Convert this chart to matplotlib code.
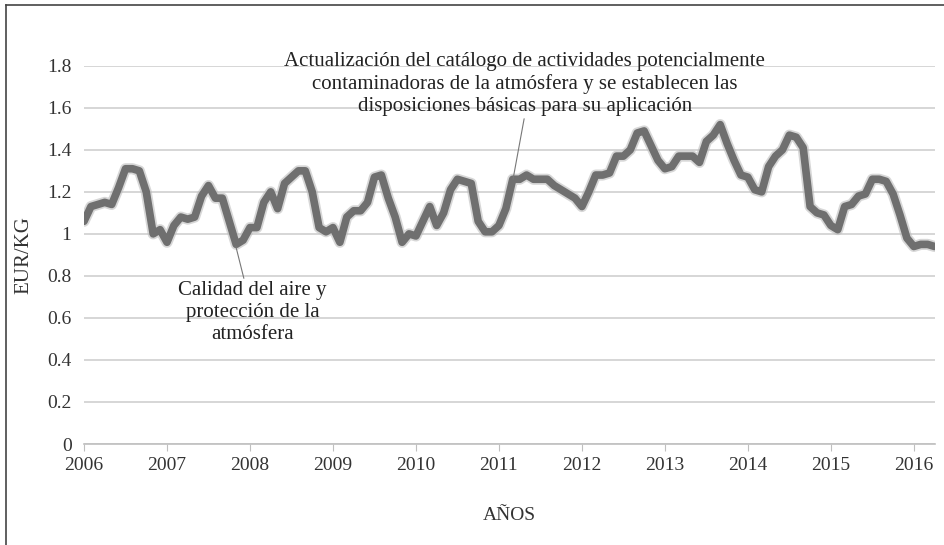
import matplotlib
matplotlib.use("Agg")
import matplotlib.pyplot as plt
from matplotlib.lines import Line2D

# --- datos: precio mensual (EUR/KG), ene-2006 .. abr-2016 ---
start_year = 2006
precio = [
    1.06, 1.13, 1.14, 1.15, 1.14, 1.22, 1.31, 1.31, 1.30, 1.20, 1.00, 1.02,  # 2006
    0.96, 1.04, 1.08, 1.07, 1.08, 1.18, 1.23, 1.17, 1.17, 1.06, 0.95, 0.97,  # 2007
    1.03, 1.03, 1.15, 1.20, 1.12, 1.24, 1.27, 1.30, 1.30, 1.20, 1.03, 1.01,  # 2008
    1.03, 0.96, 1.08, 1.11, 1.11, 1.15, 1.27, 1.28, 1.17, 1.08, 0.96, 1.00,  # 2009
    0.99, 1.06, 1.13, 1.04, 1.10, 1.21, 1.26, 1.25, 1.24, 1.06, 1.01, 1.01,  # 2010
    1.04, 1.12, 1.26, 1.26, 1.28, 1.26, 1.26, 1.26, 1.23, 1.21, 1.19, 1.17,  # 2011
    1.13, 1.20, 1.28, 1.28, 1.29, 1.37, 1.37, 1.40, 1.48, 1.49, 1.42, 1.35,  # 2012
    1.31, 1.32, 1.37, 1.37, 1.37, 1.34, 1.44, 1.47, 1.52, 1.43, 1.35, 1.28,  # 2013
    1.27, 1.21, 1.20, 1.32, 1.37, 1.40, 1.47, 1.46, 1.41, 1.13, 1.10, 1.09,  # 2014
    1.04, 1.02, 1.13, 1.14, 1.18, 1.19, 1.26, 1.26, 1.25, 1.19, 1.09, 0.98,  # 2015
    0.94, 0.95, 0.95, 0.94,                                                  # 2016
]
x = [start_year + i / 12 for i in range(len(precio))]

anios = list(range(2006, 2017))
y_ticks = [0, 0.2, 0.4, 0.6, 0.8, 1.0, 1.2, 1.4, 1.6, 1.8]
y_labels = ["0", "0.2", "0.4", "0.6", "0.8", "1", "1.2", "1.4", "1.6", "1.8"]

nota1 = "Calidad del aire y\nprotección de la\natmósfera"
nota1_xy = (2007.83, 0.94)
nota2 = ("Actualización del catálogo de actividades potencialmente\n"
         "contaminadoras de la atmósfera y se establecen las\n"
         "disposiciones básicas para su aplicación")
nota2_xy = (2011.17, 1.26)

plt.rcParams['font.family'] = ['Liberation Serif', 'DejaVu Serif']

fig = plt.figure(figsize=(9.44, 5.45), dpi=100)
ax = fig.add_axes([0.089, 0.1853, 0.901, 0.694])

# sombra suave + linea principal
ax.plot(x, precio, color='#bdbdbd', linewidth=8, alpha=0.6, solid_capstyle='round',
        solid_joinstyle='round', zorder=2)
ax.plot(x, precio, color='#6f6f6f', linewidth=5.5, solid_capstyle='round',
        solid_joinstyle='round', zorder=3)

ax.set_xlim(2006, x[-1])
ax.set_ylim(0, 1.8)
ax.set_yticks(y_ticks)
ax.set_yticklabels(y_labels)
ax.set_xticks(anios)
ax.set_xticklabels([str(a) for a in anios])
ax.grid(axis='y', color='#cfcfcf', linewidth=1.2)
ax.set_axisbelow(True)

for s in ['top', 'right', 'left']:
    ax.spines[s].set_visible(False)
ax.spines['bottom'].set_color('#bfbfbf')
ax.spines['bottom'].set_linewidth(1.2)
ax.tick_params(axis='y', length=0, labelsize=14, colors='#333333', pad=9)
ax.tick_params(axis='x', length=5, color='#bfbfbf', labelsize=14, colors='#333333', pad=4)

ax.set_xlabel('AÑOS', fontsize=14, color='#333333', labelpad=24)
ax.set_ylabel('EUR/KG', fontsize=15, color='#333333', labelpad=10)

ax.annotate(nota1, xy=nota1_xy, xytext=(2008.03, 0.625), ha='center', va='center',
            fontsize=15, color='#222222', linespacing=1.22,
            arrowprops=dict(arrowstyle='-', color='#777777', lw=0.8, shrinkA=34, shrinkB=0))
ax.annotate(nota2, xy=nota2_xy, xytext=(2011.31, 1.714), ha='center', va='center',
            fontsize=15, color='#222222', linespacing=1.22, annotation_clip=False,
            arrowprops=dict(arrowstyle='-', color='#777777', lw=0.8, shrinkA=0, shrinkB=0,
                            relpos=(0.5, 0.0)))

# marco de la imagen
fig.add_artist(Line2D([0.006, 0.006], [0, 0.99], transform=fig.transFigure,
                      color='#444444', linewidth=1.2))
fig.add_artist(Line2D([0.006, 1.0], [0.99, 0.99], transform=fig.transFigure,
                      color='#444444', linewidth=1.2))

fig.savefig('out.png', dpi=100)
